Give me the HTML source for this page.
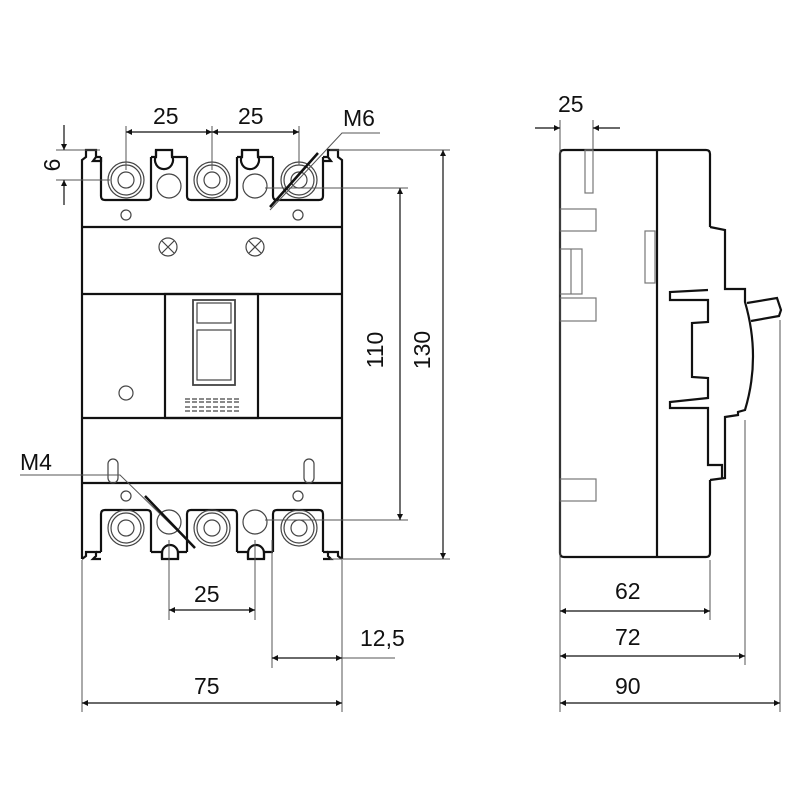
<!DOCTYPE html>
<html><head><meta charset="utf-8"><style>body{margin:0;background:#fff}svg{display:block}text{font-family:"Liberation Sans Narrow","Liberation Sans",sans-serif;font-size:23px;fill:#111;font-weight:500}</style></head><body>
<svg width="800" height="800" viewBox="0 0 800 800" xmlns="http://www.w3.org/2000/svg">
<defs><marker id="a" viewBox="0 0 10 10" refX="10" refY="5" markerWidth="10" markerHeight="6" orient="auto-start-reverse" markerUnits="userSpaceOnUse"><path d="M0,0L10,5L0,10z" fill="#111"/></marker></defs>
<g fill="none" stroke="#111" stroke-width="2.2">
<path d="M82,559V160l4-3v-7h10v7l-3,4h8v-4M342,559V160l-4-3v-7h-10v7l3,4h-8"/>
<path d="M82,559l4,-3v-4h10v4l-3,3h8M342,559l-4,-3v-4h-10v4l3,3h-8"/>
<line x1="82" y1="227" x2="342" y2="227"/><line x1="82" y1="294" x2="342" y2="294"/>
<line x1="82" y1="418" x2="342" y2="418"/><line x1="82" y1="483" x2="342" y2="483"/>
<path d="M101,157V196q0,4 4,4h42q4,0 4,-4V157M187,157V196q0,4 4,4h42q4,0 4,-4V157M273,157V196q0,4 4,4h42q4,0 4,-4V157"/>
<path d="M156,150v6a9,9 0 1 0 16,0v-6M242,150v6a9,9 0 1 0 16,0v-6"/>
<path d="M96,157h5M151,157h5v-7h16v7h15M237,157h5v-7h16v7h15M323,157h5"/>
<path d="M101,552V514q0,-4 4,-4h42q4,0 4,4V552M187,552V514q0,-4 4,-4h42q4,0 4,4V552M273,552V514q0,-4 4,-4h42q4,0 4,4V552"/>
<path d="M162,559v-6a8,8 0 1 1 16,0v6M248,559v-6a8,8 0 1 1 16,0v6"/>
<path d="M96,552h5M151,552h11v7h16v-7h9M237,552h11v7h16v-7h9M323,552h5"/>
<rect x="165" y="294" width="93" height="124"/>
</g>
<g fill="none" stroke="#444" stroke-width="1.2">
<circle cx="126" cy="180" r="18"/><circle cx="126" cy="180" r="15"/><circle cx="126" cy="180" r="8"/>
<circle cx="212" cy="180" r="18"/><circle cx="212" cy="180" r="15"/><circle cx="212" cy="180" r="8"/>
<circle cx="299" cy="180" r="18"/><circle cx="299" cy="180" r="15"/><circle cx="299" cy="180" r="8"/>
<circle cx="126" cy="528" r="18"/><circle cx="126" cy="528" r="15"/><circle cx="126" cy="528" r="8"/>
<circle cx="212" cy="528" r="18"/><circle cx="212" cy="528" r="15"/><circle cx="212" cy="528" r="8"/>
<circle cx="299" cy="528" r="18"/><circle cx="299" cy="528" r="15"/><circle cx="299" cy="528" r="8"/>
<circle cx="169" cy="186" r="12"/><circle cx="255" cy="186" r="12"/>
<circle cx="169" cy="522" r="12"/><circle cx="255" cy="522" r="12"/>
<circle cx="126" cy="215" r="5"/><circle cx="298" cy="215" r="5"/>
<circle cx="126" cy="496" r="5"/><circle cx="298" cy="496" r="5"/>
<circle cx="168" cy="247" r="9"/><path d="M162,241l12,12M174,241l-12,12"/>
<circle cx="255" cy="247" r="9"/><path d="M249,241l12,12M261,241l-12,12"/>
<circle cx="126" cy="393" r="7"/>
<rect x="108" y="459" width="10" height="24" rx="5"/><rect x="304" y="459" width="10" height="24" rx="5"/>
<rect x="193" y="300" width="42" height="85" stroke-width="1.8"/><rect x="197" y="303" width="34" height="20"/><rect x="197" y="330" width="34" height="50"/>
<path d="M185,399h54M185,402h54M185,407h54M185,411h54" stroke-dasharray="5,2"/>
</g>
<g fill="none" stroke="#111" stroke-width="2.2">
<path d="M710,227V154q0,-4 -4,-4H564q-4,0 -4,4V553q0,4 4,4H706q4,0 4,-4V480"/>
<line x1="657" y1="150" x2="657" y2="557"/>
<path d="M710,227l15,3V289h20v13q16,55 0,108l-7,2v3l-13,2V478l-15,2 M722,478V465h-14V408h-38v-6l38,-4V378l-16,-1V323l16,-1V300h-38v-8l38,-2"/>
<path d="M747,303l30,-5 4,12 -2,6 -28,5"/>
</g>
<g fill="none" stroke="#777" stroke-width="1.2">
<rect x="585" y="150" width="8" height="43"/><rect x="560" y="209" width="36" height="22"/><rect x="560" y="249" width="22" height="45"/><line x1="571" y1="249" x2="571" y2="294"/>
<rect x="560" y="298" width="36" height="23"/><rect x="645" y="231" width="10" height="52"/><rect x="560" y="479" width="36" height="22"/>
</g>
<g stroke="#555" stroke-width="1" fill="none">
<path d="M126,126V170M212,126V170M299,126V165"/>
<path d="M56,150H100M56,180H110"/>
<path d="M330,150H450M265,188H408M265,520H408M330,559H450"/>
<path d="M82,560V712M342,560V712M169,540V620M255,540V620M272,540V668"/>
<path d="M342,658H395"/>
<path d="M560,120V712M593,120V150M710,560V620M745,420V665M780,320V712"/>
<path d="M20,475H120L195,548M380,133H342L270,210"/>
</g>
<g stroke="#111" stroke-width="1.2" fill="none">
<line x1="126" y1="132" x2="212" y2="132" marker-start="url(#a)" marker-end="url(#a)"/>
<line x1="212" y1="132" x2="299" y2="132" marker-start="url(#a)" marker-end="url(#a)"/>
<line x1="64" y1="125" x2="64" y2="150" marker-end="url(#a)"/><line x1="64" y1="205" x2="64" y2="180" marker-end="url(#a)"/>
<line x1="400" y1="188" x2="400" y2="520" marker-start="url(#a)" marker-end="url(#a)"/>
<line x1="443" y1="150" x2="443" y2="559" marker-start="url(#a)" marker-end="url(#a)"/>
<line x1="169" y1="610" x2="255" y2="610" marker-start="url(#a)" marker-end="url(#a)"/>
<line x1="272" y1="658" x2="342" y2="658" marker-start="url(#a)" marker-end="url(#a)"/>
<line x1="82" y1="703" x2="342" y2="703" marker-start="url(#a)" marker-end="url(#a)"/>
<line x1="535" y1="128" x2="560" y2="128" marker-end="url(#a)"/><line x1="620" y1="128" x2="593" y2="128" marker-end="url(#a)"/>
<line x1="560" y1="611" x2="710" y2="611" marker-start="url(#a)" marker-end="url(#a)"/>
<line x1="560" y1="656" x2="745" y2="656" marker-start="url(#a)" marker-end="url(#a)"/>
<line x1="560" y1="703" x2="780" y2="703" marker-start="url(#a)" marker-end="url(#a)"/>
<line x1="318" y1="153" x2="270" y2="207" stroke-width="2.5"/><line x1="145" y1="496" x2="195" y2="548" stroke-width="2.5"/>
</g>
<text x="153" y="124">25</text><text x="238" y="124">25</text><text x="343" y="126">M6</text>
<text transform="translate(60,165) rotate(-90)" text-anchor="middle">6</text>
<text transform="translate(383,350) rotate(-90)" text-anchor="middle">110</text>
<text transform="translate(430,350) rotate(-90)" text-anchor="middle">130</text>
<text x="20" y="470">M4</text><text x="194" y="602">25</text><text x="360" y="646">12,5</text><text x="194" y="694">75</text>
<text x="558" y="112">25</text><text x="615" y="599">62</text><text x="615" y="645">72</text><text x="615" y="694">90</text>
</svg>
</body></html>
